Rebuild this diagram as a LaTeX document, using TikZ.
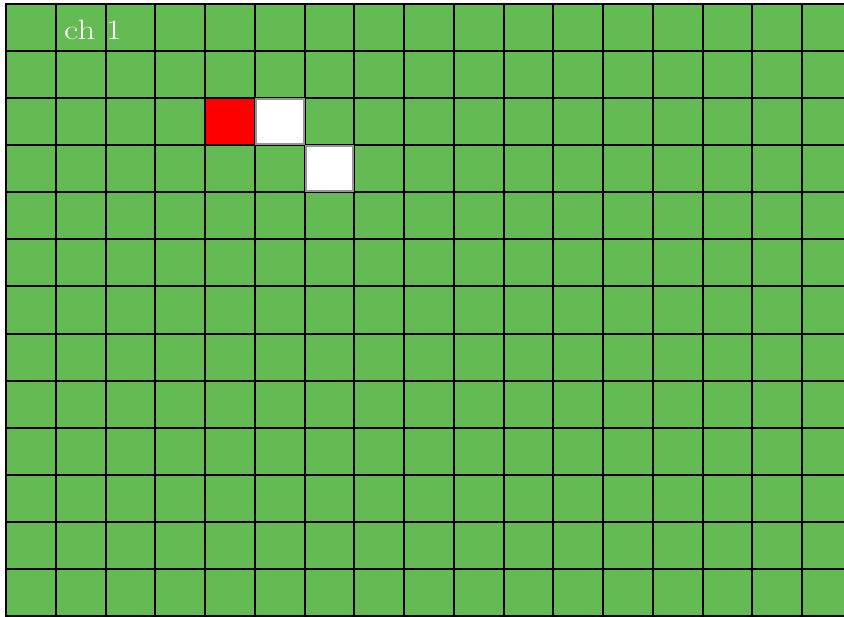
\documentclass[tikz,border=0pt]{standalone}
\usepackage{fontspec}
\usepackage{graphicx}
\definecolor{cellgreen}{RGB}{101,187,83}
\definecolor{cellred}{RGB}{255,0,0}
\definecolor{cellgray}{RGB}{150,150,150}
\tikzset{
  gridline/.style={black, line width=2pt},
  redcell/.style={fill=cellred, draw=black, line width=2pt},
  whitecell/.style={fill=white, draw=cellgray, line width=2pt},
  chlabel/.style={text=white, inner sep=0pt, anchor=base west, font=\fontsize{28}{28}\selectfont}
}
\begin{document}
\begin{tikzpicture}[x=1pt,y=-1pt]
\useasboundingbox (0,0) rectangle (844,617);
\clip (0,0) rectangle (844,617);
\fill[cellgreen] (6,4) rectangle (852,616);
\foreach \i in {0,...,17} {
  \draw[gridline] ({6+\i*49.75},4) -- ({6+\i*49.75},616);
}
\foreach \j in {0,...,13} {
  \draw[gridline] (5,{4+\j*47.077}) -- (852,{4+\j*47.077});
}
% red cell: column 4, row 2
\draw[redcell] (205,98.15) rectangle (254.75,145.23);
% white cells
\draw[whitecell] (255.75,99.15) rectangle (303.5,144.23);
\draw[whitecell] (305.5,146.23) rectangle (353.25,191.3);
\node[chlabel] (lbl) at (64,39.5) {\scalebox{1.25}[1]{ch 1}};
\end{tikzpicture}
\end{document}
